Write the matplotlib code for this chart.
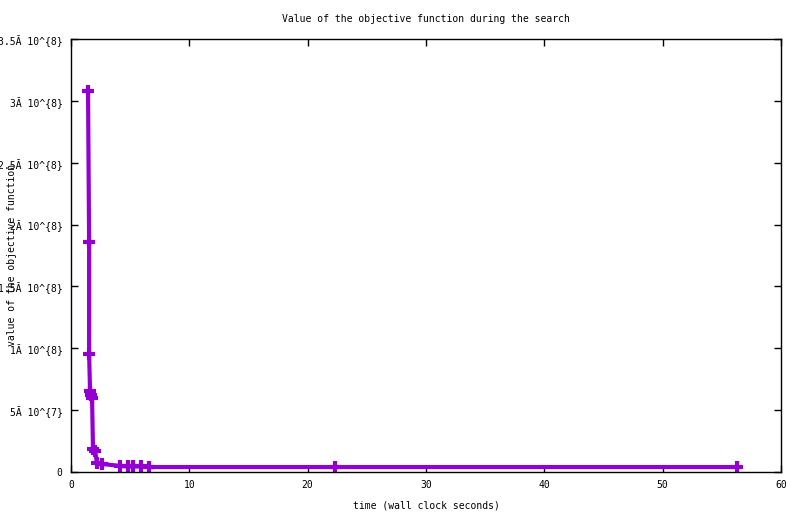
import matplotlib
matplotlib.use("Agg")
import matplotlib.pyplot as plt

# best objective value found so far vs wall clock time
times = [1.44, 1.53, 1.53, 1.61, 1.69, 1.78, 1.86, 2.03, 2.20, 2.63,
         4.15, 4.83, 5.25, 5.93, 6.61, 22.3, 56.3]
values = [3.08e8, 1.86e8, 0.954e8, 0.655e8, 0.622e8, 0.598e8, 0.186e8, 0.170e8,
          0.073e8, 0.065e8, 0.049e8, 0.045e8, 0.045e8, 0.045e8, 0.040e8, 0.040e8, 0.040e8]

xticks = [0, 10, 20, 30, 40, 50, 60]
yticks = [0, 0.5e8, 1e8, 1.5e8, 2e8, 2.5e8, 3e8, 3.5e8]
ylabels = ["0", "5Ă 10^{7}", "1Ă 10^{8}", "1.5Ă 10^{8}", "2Ă 10^{8}",
           "2.5Ă 10^{8}", "3Ă 10^{8}", "3.5Ă 10^{8}"]

plt.rcParams["font.family"] = ["DejaVu Sans Mono"]
plt.rcParams["font.size"] = 7

fig = plt.figure(figsize=(8.0, 5.14), dpi=100)
ax = fig.add_axes([71 / 800, 42 / 514, 710 / 800, 433 / 514])

ax.plot(times, values, color="#9400d3", lw=3, marker="+", ms=8, mew=3)

ax.set_xlim(0, 60)
ax.set_ylim(0, 3.5e8)
ax.set_xticks(xticks)
ax.set_xticklabels([str(t) for t in xticks])
ax.set_yticks(yticks)
ax.set_yticklabels(ylabels)
ax.tick_params(direction="in", length=5, width=1, top=True, right=True, pad=6)
for s in ax.spines.values():
    s.set_linewidth(1)

fig.text(426 / 800, 1 - 19 / 514, "Value of the objective function during the search",
         ha="center", va="center", fontsize=7)
fig.text(426 / 800, 1 - 505 / 514, "time (wall clock seconds)",
         ha="center", va="center", fontsize=7)
fig.text(12 / 800, 1 - 255 / 514, "value of the objective function",
         ha="center", va="center", rotation=90, fontsize=7)

fig.savefig("out.png", dpi=100)
